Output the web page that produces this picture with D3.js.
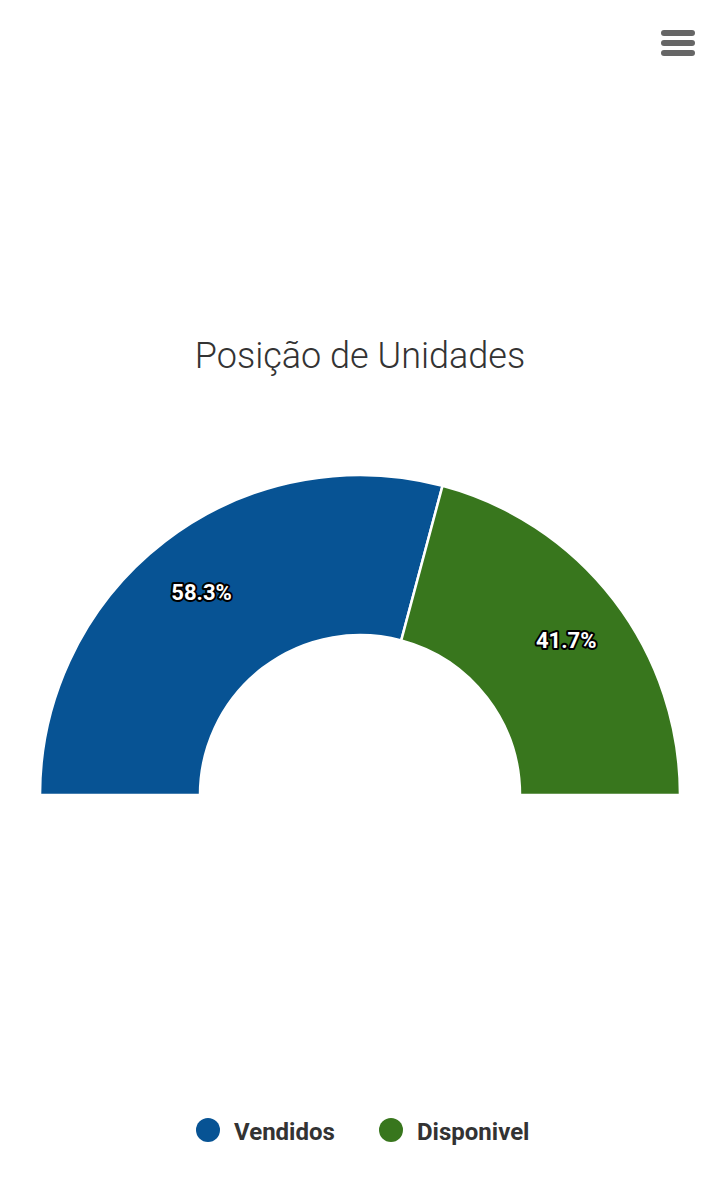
<!DOCTYPE html>
<html><head><meta charset="utf-8">
<script src="https://cdn.jsdelivr.net/npm/d3@7/dist/d3.min.js"></script>
<style>html,body{margin:0;padding:0;background:#fff}svg{display:block}</style>
</head><body><svg id="c" width="720" height="1178"></svg>
<script>
const categories = ["Vendidos", "Disponivel"];
const seriesValues = [58.3, 41.7];
const labels = ["58.3%", "41.7%"];
const colors = ["#075394", "#38761d"];
const titleText = "Posição de Unidades";
const menuLines = [0, 1, 2];

const svg = d3.select("#c");
const font = "Roboto, sans-serif";
const cx = 360, cy = 795, outerR = 320, innerR = 160, labelR = 260;

svg.append("text").attr("x", 360).attr("y", 368).attr("text-anchor", "middle")
  .attr("font-family", font).attr("font-weight", 300).attr("font-size", 36)
  .attr("fill", "#333").text(titleText);

const pie = d3.pie().sort(null).startAngle(-Math.PI / 2).endAngle(Math.PI / 2);
const arcs = pie(seriesValues);
const arc = d3.arc().innerRadius(innerR).outerRadius(outerR);
const g = svg.append("g").attr("transform", `translate(${cx},${cy})`);
g.selectAll("path").data(arcs).join("path")
  .attr("d", arc).attr("fill", (d, i) => colors[i])
  .attr("stroke", "#fff").attr("stroke-width", 2.5).attr("stroke-linejoin", "round");

const labelArc = d3.arc().innerRadius(labelR).outerRadius(labelR);
g.selectAll("text").data(arcs).join("text")
  .attr("x", d => labelArc.centroid(d)[0])
  .attr("y", d => labelArc.centroid(d)[1])
  .attr("dy", 11).attr("text-anchor", "middle")
  .attr("font-family", font).attr("font-weight", 700).attr("font-size", 22)
  .attr("fill", "#fff").attr("stroke", "#000").attr("stroke-width", 4)
  .attr("stroke-linejoin", "round").attr("paint-order", "stroke")
  .text((d, i) => labels[i]);

const legendX = d3.scaleOrdinal().domain(categories).range([208, 391]);
const legend = svg.append("g").selectAll("g").data(categories).join("g")
  .attr("transform", d => `translate(${legendX(d)},1130)`);
legend.append("circle").attr("r", 12).attr("fill", (d, i) => colors[i]);
legend.append("text").attr("x", 26).attr("y", 10)
  .attr("font-family", font).attr("font-weight", 700).attr("font-size", 24)
  .attr("fill", "#333").text(d => d);

const menuY = d3.scalePoint().domain(menuLines).range([33, 53]);
svg.append("g").selectAll("line").data(menuLines).join("line")
  .attr("x1", 664).attr("x2", 692)
  .attr("y1", d => menuY(d)).attr("y2", d => menuY(d))
  .attr("stroke", "#666").attr("stroke-width", 6).attr("stroke-linecap", "round");
</script></body></html>
